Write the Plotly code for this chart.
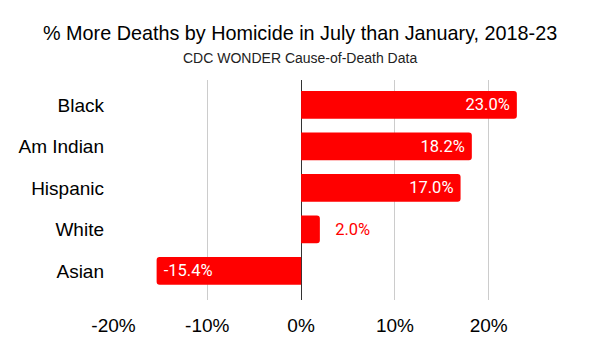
import plotly.graph_objects as go

categories = ["Black", "Am Indian", "Hispanic", "White", "Asian"]
values = [23.0, 18.2, 17.0, 2.0, -15.4]
tick_vals = [-20, -10, 0, 10, 20, 30]
tick_text = ["-20%", "-10%", "0%", "10%", "20%", ""]

title_text = "% More Deaths by Homicide in July than January, 2018-23"
subtitle_text = "CDC WONDER Cause-of-Death Data"

NB = "\u00a0"
labels, positions, label_colors = [], [], []
for v in values:
    s = f"{v:.1f}%"
    if abs(v) < 5:
        labels.append(NB * 3 + s)
        positions.append("outside")
        label_colors.append("#ff0000")
    elif v < 0:
        labels.append(NB + s)
        positions.append("inside")
        label_colors.append("#ffffff")
    else:
        labels.append(s + NB)
        positions.append("inside")
        label_colors.append("#ffffff")

fig = go.Figure(
    go.Bar(
        x=values,
        y=categories,
        orientation="h",
        marker=dict(color="#ff0000", line=dict(width=0), cornerradius=3),
        width=0.67,
        text=labels,
        textposition=positions,
        insidetextanchor="end",
        textfont=dict(family="Roboto", size=16.5, color=label_colors),
        cliponaxis=False,
        hoverinfo="skip",
    )
)

PT, PB = 80, 300
def py(p):
    return (PB - p) / (PB - PT)

fig.update_layout(
    width=600,
    height=351,
    margin=dict(l=113, r=17, t=PT, b=351 - PB),
    paper_bgcolor="white",
    plot_bgcolor="white",
    showlegend=False,
    font=dict(family="Liberation Sans, Arial, sans-serif", color="#000000"),
    xaxis=dict(
        range=[-20.05, 30.05],
        tickvals=tick_vals,
        ticktext=tick_text,
        showgrid=True,
        gridcolor="#cccccc",
        gridwidth=1,
        zeroline=True,
        zerolinecolor="#333333",
        zerolinewidth=1,
        showline=False,
        ticks="",
        tickfont=dict(size=19, color="#000000"),
        ticklabelstandoff=12,
        fixedrange=True,
    ),
    yaxis=dict(
        type="category",
        categoryorder="array",
        categoryarray=categories,
        range=[4.7, -0.6],
        showgrid=False,
        zeroline=False,
        showline=False,
        ticks="",
        tickfont=dict(size=19, color="#000000"),
        ticklabelstandoff=8,
        fixedrange=True,
    ),
    annotations=[
        dict(
            text=title_text,
            xref="paper", yref="paper",
            x=(300 - 113) / 470, y=py(33),
            xanchor="center", yanchor="middle",
            showarrow=False,
            font=dict(size=19.8, color="#000000", family="Liberation Sans, Arial, sans-serif"),
        ),
        dict(
            text=subtitle_text,
            xref="paper", yref="paper",
            x=(300 - 113) / 470, y=py(58),
            xanchor="center", yanchor="middle",
            showarrow=False,
            font=dict(size=14, color="#222222", family="Liberation Sans, Arial, sans-serif"),
        ),
    ],
)

fig.write_html("out.html")
